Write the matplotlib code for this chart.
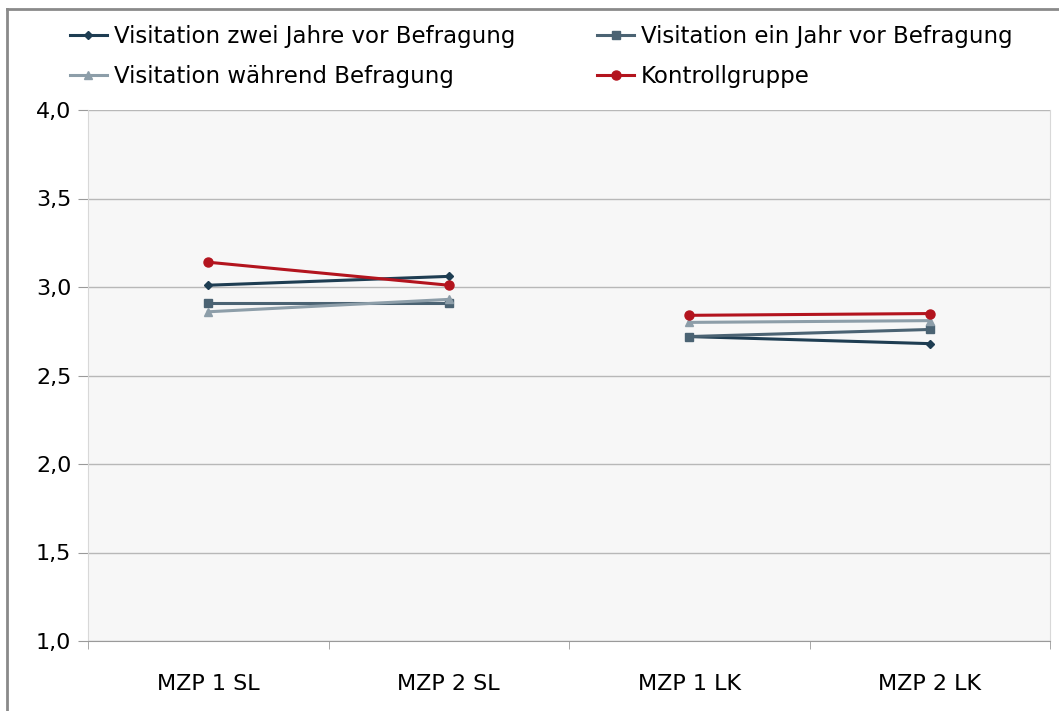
import numpy as np
import matplotlib
matplotlib.use('Agg')
from matplotlib import pyplot as plt
from matplotlib.lines import Line2D

categories = ['MZP 1 SL', 'MZP 2 SL', 'MZP 1 LK', 'MZP 2 LK']
names = ['Visitation zwei Jahre vor Befragung', 'Visitation ein Jahr vor Befragung',
         'Visitation während Befragung', 'Kontrollgruppe']
zwei_jahre = [3.01, 3.06, 2.72, 2.68]
ein_jahr = [2.91, 2.91, 2.72, 2.76]
waehrend = [2.86, 2.93, 2.80, 2.81]
kontrolle = [3.14, 3.01, 2.84, 2.85]
yticks = [1.0, 1.5, 2.0, 2.5, 3.0, 3.5, 4.0]

colors = ['#1e3d52', '#4b6373', '#8d9ea9', '#b3141e']
markers = ['D', 's', '^', 'o']
msizes = [4, 6, 6, 6.5]

plt.rcParams['font.family'] = ['DejaVu Sans']

fig = plt.figure(figsize=(10.59, 7.11), dpi=100)
# outer frame (only left and top edges are visible in the cropped original)
fig.add_artist(Line2D([7/1059, 7/1059], [0, 1 - 9/711], transform=fig.transFigure,
                      color='#8a8a8a', linewidth=2))
fig.add_artist(Line2D([7/1059, 1], [1 - 9/711, 1 - 9/711], transform=fig.transFigure,
                      color='#8a8a8a', linewidth=2))

ax = fig.add_axes([88/1059, 70/711, 962/1059, 531/711])
ax.set_facecolor('#f7f7f7')

x = np.arange(len(categories))
handles = []
for vals, name, c, m, ms in zip([zwei_jahre, ein_jahr, waehrend, kontrolle], names, colors, markers, msizes):
    v = np.array(vals)
    # two separate pairs: SL and LK
    h, = ax.plot(x[:2], v[:2], color=c, marker=m, markersize=ms, linewidth=2.2, label=name)
    ax.plot(x[2:], v[2:], color=c, marker=m, markersize=ms, linewidth=2.2)
    handles.append(h)

ax.set_xlim(-0.5, 3.5)
ax.set_ylim(1.0, 4.0)
ax.set_yticks(yticks)
ax.set_yticklabels([('%.1f' % t).replace('.', ',') for t in yticks], fontsize=16)
ax.set_xticks(x)
ax.set_xticklabels(categories, fontsize=16)
ax.set_xticks([-0.5, 0.5, 1.5, 2.5, 3.5], minor=True)
ax.tick_params(axis='x', which='major', length=0, pad=24)
ax.tick_params(axis='x', which='minor', length=6, color='#9a9a9a')
ax.tick_params(axis='y', length=7, color='#9a9a9a', pad=5)
ax.grid(axis='y', color='#b8b8b8', linewidth=1)
ax.set_axisbelow(True)
ax.spines['top'].set_visible(False)
ax.spines['left'].set_color('#d8d8d8')
ax.spines['right'].set_color('#d8d8d8')
ax.spines['bottom'].set_color('#9a9a9a')

# legend order: row 1 = first two series, row 2 = last two (column-major fill)
order = [0, 2, 1, 3]
fig.legend([handles[i] for i in order], [names[i] for i in order],
           loc='upper left', bbox_to_anchor=(70/1059, 1 - 25/711), ncol=2,
           frameon=False, fontsize=16.5, columnspacing=3.6, handlelength=1.6,
           handletextpad=0.3, labelspacing=0.75, borderpad=0, borderaxespad=0)

plt.savefig('out.png', dpi=100)
